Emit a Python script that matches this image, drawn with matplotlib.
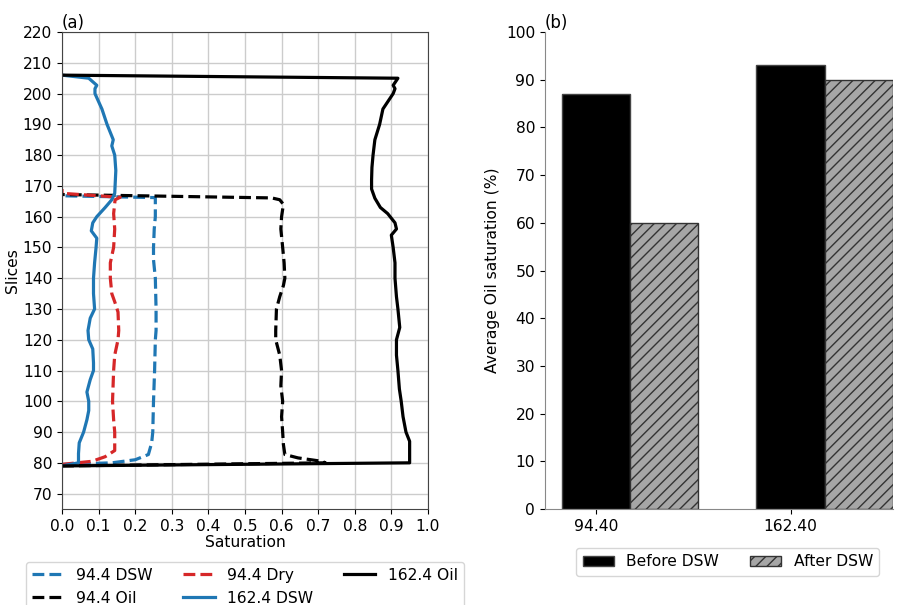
import matplotlib
matplotlib.use("Agg")
import matplotlib.pyplot as plt
import numpy as np

# ---- Panel (a) data: saturation profiles along slices ----
dsw944_slices = [79.5, 80, 81, 82.7, 86.5, 90, 100, 110, 120, 123, 130, 140, 146, 150, 156, 160, 165, 166.2, 166.8]
dsw944_sat    = [0.0, 0.136, 0.2, 0.236, 0.245, 0.248, 0.25, 0.253, 0.255, 0.257, 0.257, 0.255, 0.25, 0.25, 0.252, 0.255, 0.255, 0.255, 0.0]

oil944_slices = [79, 80, 80.5, 81.6, 82.7, 86, 90, 95, 100, 105, 110, 115, 120, 123, 130, 134, 137.6, 140, 145, 150, 156, 160, 164, 165.5, 166.1, 167.2]
oil944_sat    = [0.0, 0.72, 0.71, 0.645, 0.609, 0.605, 0.603, 0.6, 0.603, 0.598, 0.6, 0.595, 0.584, 0.584, 0.586, 0.595, 0.605, 0.609, 0.607, 0.603, 0.598, 0.6, 0.605, 0.595, 0.573, 0.0]

dry944_slices = [79.5, 80.5, 82, 84, 90, 94, 100, 110, 115, 120, 123, 129, 132, 135, 140, 145, 150, 156, 161, 165.5, 166.3, 167.6, 169]
dry944_sat    = [0.0, 0.082, 0.118, 0.144, 0.144, 0.141, 0.138, 0.141, 0.144, 0.153, 0.155, 0.153, 0.145, 0.136, 0.132, 0.132, 0.141, 0.144, 0.141, 0.145, 0.159, 0.0, 0.0]

dsw1624_slices = [79, 80, 83, 86.5, 90, 94, 97, 100, 103, 107, 110, 112.5, 117, 120, 123, 127, 130, 135, 140, 145, 150, 153, 155.4, 158, 160, 163, 165.5, 167.6, 170, 175, 180, 183, 185, 190, 195, 200, 201.6, 202.7, 205, 206]
dsw1624_sat    = [0.0, 0.045, 0.045, 0.047, 0.059, 0.068, 0.073, 0.073, 0.068, 0.077, 0.086, 0.086, 0.084, 0.073, 0.071, 0.077, 0.089, 0.086, 0.086, 0.089, 0.093, 0.095, 0.08, 0.084, 0.095, 0.118, 0.136, 0.144, 0.145, 0.147, 0.144, 0.136, 0.14, 0.123, 0.109, 0.09, 0.09, 0.095, 0.073, 0.0]

oil1624_slices = [79, 80, 81, 84, 87, 90, 95, 100, 104, 110, 115, 120, 124, 130, 134, 140, 145, 150, 154, 156, 158, 161, 163, 166, 169, 172, 176, 180, 185, 190, 195, 200, 201.6, 202.7, 205, 206]
oil1624_sat    = [0.0, 0.95, 0.95, 0.95, 0.95, 0.94, 0.932, 0.927, 0.922, 0.918, 0.914, 0.914, 0.923, 0.918, 0.914, 0.91, 0.91, 0.905, 0.9, 0.914, 0.91, 0.89, 0.87, 0.855, 0.846, 0.846, 0.847, 0.85, 0.855, 0.868, 0.877, 0.905, 0.91, 0.905, 0.918, 0.0]

# ---- Panel (b) data ----
categories = ["94.40", "162.40"]
before_dsw = [87, 93]
after_dsw = [60, 90]

plt.rcParams['font.family'] = ['DejaVu Sans']
plt.rcParams['font.size'] = 11.2

fig = plt.figure(figsize=(8.99, 6.05), dpi=100)
ax1 = fig.add_axes([0.069, 0.1587, 0.407, 0.7883])
ax2 = fig.add_axes([0.606, 0.1587, 0.387, 0.7883])

lw = 2.3
ax1.plot(dsw944_sat, dsw944_slices, '--', color='#1f77b4', lw=lw, label='94.4 DSW')
ax1.plot(oil944_sat, oil944_slices, '--', color='black', lw=lw, label='94.4 Oil')
ax1.plot(dry944_sat, dry944_slices, '--', color='#d62728', lw=lw, label='94.4 Dry')
ax1.plot(dsw1624_sat, dsw1624_slices, '-', color='#1f77b4', lw=lw, label='162.4 DSW')
ax1.plot(oil1624_sat, oil1624_slices, '-', color='black', lw=lw, label='162.4 Oil')

ax1.set_xlim(0, 1.0)
ax1.set_ylim(65, 220)
ax1.set_xticks(np.arange(0, 1.01, 0.1))
ax1.set_yticks(np.arange(70, 221, 10))
ax1.set_xticklabels([f"{v:.1f}" for v in np.arange(0, 1.01, 0.1)])
ax1.grid(True, color='#cccccc', lw=1)
ax1.set_axisbelow(True)
ax1.set_xlabel('Saturation', labelpad=1)
ax1.set_ylabel('Slices', labelpad=2)
ax1.set_title('(a)', loc='left', pad=3, fontsize=12)
for s in ax1.spines.values():
    s.set_color('#444444')
ax1.legend(loc='upper center', bbox_to_anchor=(0.5, -0.094), ncol=3, frameon=True,
           fontsize=11.2, columnspacing=2.0, handlelength=2.0)

x = np.arange(len(categories))
w = 0.35
ax2.bar(x, before_dsw, w, color='black', edgecolor='#444444', label='Before DSW')
ax2.bar(x + w, after_dsw, w, color='#a6a6a6', edgecolor='#333333', hatch='///', label='After DSW')
ax2.set_xticks(x)
ax2.set_xticklabels(categories)
ax2.set_xlim(-0.263, 1.525)
ax2.set_ylim(0, 100)
ax2.set_yticks(np.arange(0, 101, 10))
ax2.set_ylabel('Average Oil saturation (%)')
ax2.set_title('(b)', loc='left', pad=3, fontsize=12)
ax2.spines['top'].set_visible(False)
ax2.spines['right'].set_visible(False)
ax2.spines['left'].set_color('#888888')
ax2.spines['bottom'].set_color('#888888')
ax2.legend(loc='upper center', bbox_to_anchor=(0.526, -0.066), ncol=2, frameon=True,
           fontsize=11.2, columnspacing=2.0)

fig.savefig('out.png', dpi=100)
